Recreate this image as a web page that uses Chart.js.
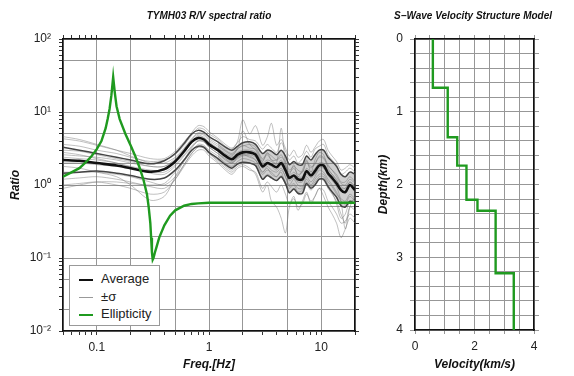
<!DOCTYPE html>
<html>
<head>
<meta charset="utf-8">
<script src="https://cdn.jsdelivr.net/npm/chart.js@4.4.1/dist/chart.umd.min.js"></script>
<style>
  html, body { margin: 0; padding: 0; background: #fff; }
  #wrap { position: relative; width: 574px; height: 376px; overflow: hidden; }
  #ratio { position: absolute; left: 0; top: 0; }
  #vel { position: absolute; left: 372px; top: 0; }
  #legend { position: absolute; left: 69px; top: 265px; width: 89px; height: 59px; background: #fff;
            border: 1px solid #999; font: 13px "Liberation Sans", Arial, sans-serif; color: #222; }
  #legend .row { position: absolute; left: 9px; height: 16px; line-height: 16px; white-space: nowrap; }
  #legend .ln { display: inline-block; width: 14px; vertical-align: middle; margin-right: 8px; }
</style>
</head>
<body>
<div id="wrap">
  <canvas id="ratio" width="370" height="376"></canvas>
  <canvas id="vel" width="202" height="376"></canvas>
  <div id="legend">
    <div class="row" style="top:5px"><span class="ln" style="border-top:2.5px solid #111"></span>Average</div>
    <div class="row" style="top:23px"><span class="ln" style="border-top:1px solid #999"></span>±σ</div>
    <div class="row" style="top:40px"><span class="ln" style="border-top:2.5px solid #1f9a1f"></span>Ellipticity</div>
  </div>
</div>
<script>
const FONT = '"Liberation Sans", Arial, sans-serif';

// R/V spectral ratio
const freq = [0.05, 0.07, 0.1, 0.15, 0.2, 0.3, 0.4,
              0.5, 0.6, 0.7, 0.8, 0.9, 1.0, 1.2,
              1.4, 1.6, 1.8, 2.0, 2.3, 2.6, 3.0,
              3.3, 3.6, 4.0, 4.4, 4.8, 5.2, 5.7,
              6.2, 6.8, 7.4, 8.1, 8.8, 9.6, 10.5,
              11.5, 12.5, 13.7, 15, 16.4, 18, 20];
const average = [2.2, 2.15, 2.0, 1.85, 1.7, 1.52, 1.65,
                 2.1, 2.9, 3.9, 4.4, 4.2, 3.6, 3.0,
                 2.5, 2.25, 2.6, 2.8, 2.8, 2.6, 1.8,
                 2.0, 1.9, 1.75, 2.0, 1.6, 1.25, 1.35,
                 1.2, 1.2, 1.55, 1.35, 1.55, 1.85, 1.85,
                 1.45, 1.25, 1.05, 0.85, 0.8, 1.0, 0.85];
const sigmaUpper = [3.3, 3.0, 2.7, 2.4, 2.2, 1.95, 2.15,
                    2.7, 3.7, 5.0, 5.6, 5.3, 4.6, 3.9,
                    3.3, 3.0, 3.4, 3.8, 3.9, 3.6, 2.7,
                    3.0, 2.9, 2.6, 3.0, 2.5, 1.9, 2.1,
                    1.9, 1.9, 2.5, 2.2, 2.6, 3.0, 3.0,
                    2.4, 2.1, 1.8, 1.4, 1.3, 1.5, 1.4];
const sigmaLower = [1.45, 1.5, 1.55, 1.45, 1.35, 1.2, 1.25,
                    1.6, 2.2, 3.0, 3.4, 3.3, 2.8, 2.3,
                    1.9, 1.7, 1.95, 2.05, 2.0, 1.85, 1.2,
                    1.35, 1.25, 1.15, 1.3, 1.05, 0.78, 0.88,
                    0.77, 0.77, 1.05, 0.9, 1.0, 1.2, 1.2,
                    0.95, 0.8, 0.68, 0.52, 0.5, 0.6, 0.55];
// individual gray records
const traces = [
  [4.3, 4.0, 3.5, 3.0, 2.7, 2.3, 2.3, 2.9, 3.9, 5.2, 6.5, 6.3, 5.4, 4.4, 3.6, 3.2, 3.8, 4.6, 4.2, 4.0, 3.1,
   3.6, 3.2, 2.8, 3.8, 2.9, 2.2, 2.5, 2.0, 2.3, 2.9, 2.4, 3.1, 3.4, 3.6, 2.6, 2.2, 1.9, 1.4, 1.5, 1.7, 1.5],
  [1.2, 1.25, 1.3, 1.2, 1.1, 0.95, 0.9, 1.2, 1.8, 2.5, 3.0, 3.0, 2.5, 2.0, 1.6, 1.4, 1.7, 1.8, 1.6, 1.5, 0.9,
   1.1, 0.95, 0.8, 1.0, 0.75, 0.55, 0.65, 0.5, 0.55, 0.75, 0.6, 0.7, 0.9, 0.85, 0.6, 0.5, 0.4, 0.3, 0.32, 0.4, 0.35],
  [3.0, 2.9, 2.6, 2.3, 2.1, 1.8, 1.8, 2.3, 3.1, 4.2, 5.0, 4.8, 4.1, 3.4, 2.9, 2.6, 3.1, 3.5, 3.2, 3.1, 2.2,
   2.6, 2.2, 2.2, 2.6, 1.9, 1.5, 1.7, 1.4, 1.5, 2.0, 1.7, 2.0, 2.4, 2.3, 1.8, 1.6, 1.3, 1.05, 1.0, 1.2, 1.05],
  [1.8, 1.7, 1.5, 1.3, 1.0, 0.62, 0.7, 1.3, 2.2, 3.2, 4.0, 3.9, 3.3, 2.7, 2.2, 2.0, 2.4, 2.6, 2.4, 2.2, 1.5,
   1.8, 1.6, 1.5, 1.7, 1.3, 1.0, 1.2, 1.0, 0.95, 1.3, 1.1, 1.3, 1.6, 1.5, 1.2, 1.0, 0.8, 0.6, 0.55, 0.7, 0.6],
  [4.6, 4.2, 3.6, 3.0, 2.5, 2.0, 2.0, 2.4, 3.2, 4.3, 5.2, 5.0, 4.3, 3.6, 3.0, 2.7, 3.2, 3.4, 3.6, 3.3, 2.3,
   2.7, 2.5, 2.2, 2.4, 2.1, 1.6, 1.8, 1.6, 1.5, 2.1, 1.8, 1.9, 2.5, 2.4, 1.9, 1.6, 1.4, 1.1, 1.1, 1.3, 1.1],
  [0.9, 1.0, 1.1, 1.1, 1.05, 1.0, 1.05, 1.5, 2.1, 2.9, 3.6, 3.5, 3.0, 2.5, 2.0, 1.8, 2.1, 2.3, 2.2, 2.0, 1.4,
   1.6, 1.5, 1.3, 1.6, 1.3, 0.95, 1.05, 0.9, 0.9, 1.2, 1.0, 1.2, 1.4, 1.4, 1.1, 0.95, 0.75, 0.65, 0.6, 0.75, 0.65],
  [2.6, 2.5, 2.4, 2.2, 2.0, 1.8, 1.8, 2.2, 2.9, 3.9, 4.8, 4.5, 3.9, 3.2, 2.7, 2.5, 3.2, 5.5, 3.6, 3.0, 2.1,
   2.8, 2.2, 2.0, 6.0, 2.0, 1.4, 1.9, 1.3, 1.6, 2.2, 1.5, 2.2, 2.8, 2.6, 1.7, 1.4, 1.2, 0.9, 0.9, 1.1, 0.95],
  [2.0, 2.0, 1.9, 1.8, 1.7, 1.5, 1.5, 1.9, 2.6, 3.4, 4.1, 4.0, 3.5, 2.9, 2.4, 2.1, 2.4, 2.6, 2.6, 2.4, 1.7,
   1.9, 1.8, 1.6, 1.9, 1.5, 1.15, 1.25, 1.1, 1.1, 1.4, 1.25, 1.4, 1.7, 1.7, 1.35, 1.15, 0.95, 0.6, 0.25, 0.5, 0.7],
  [2.4, 2.3, 2.2, 2.0, 1.8, 1.6, 1.6, 2.1, 2.8, 3.8, 4.6, 4.4, 3.8, 3.1, 2.6, 2.4, 2.8, 3.0, 3.0, 2.8, 2.0,
   2.2, 2.1, 1.9, 2.2, 1.8, 1.35, 1.5, 1.3, 1.3, 1.7, 1.5, 1.7, 2.0, 2.0, 1.6, 1.4, 1.15, 0.95, 0.9, 1.1, 0.95],
  [1.5, 1.5, 1.5, 1.4, 1.3, 1.1, 1.0, 1.3, 1.9, 2.7, 3.3, 3.2, 2.7, 2.2, 1.8, 1.6, 1.9, 2.0, 2.0, 1.8, 1.2,
   1.4, 1.3, 1.15, 1.35, 1.1, 0.8, 0.9, 0.75, 0.75, 1.0, 0.85, 1.0, 1.2, 1.15, 0.9, 0.75, 0.6, 0.4, 0.3, 0.5, 0.45],
  [1.0, 1.05, 1.1, 1.0, 0.9, 0.75, 0.8, 1.2, 1.9, 2.7, 3.3, 3.2, 2.7, 2.1, 1.7, 1.5, 1.8, 1.9, 1.7, 1.4, 0.8,
   1.0, 0.6, 0.5, 0.35, 0.22, 0.5, 0.7, 0.45, 0.6, 0.8, 0.55, 0.7, 0.9, 0.7, 0.5, 0.4, 0.3, 0.19, 0.25, 0.35, 0.3],
  [3.6, 3.4, 3.0, 2.7, 2.4, 2.1, 2.2, 2.6, 3.5, 4.8, 6.0, 5.8, 5.0, 4.2, 3.4, 3.1, 4.0, 7.8, 5.0, 6.5, 3.5,
   4.5, 7.0, 3.5, 4.2, 3.2, 2.5, 3.0, 2.4, 2.6, 3.5, 2.8, 3.3, 4.0, 4.2, 3.0, 2.5, 2.1, 1.6, 1.7, 1.9, 1.7],
  [2.8, 2.6, 2.3, 2.0, 1.75, 1.45, 1.4, 1.8, 2.5, 3.3, 4.0, 3.9, 3.3, 2.7, 2.3, 2.0, 2.3, 2.5, 2.5, 2.2, 1.5,
   1.7, 1.4, 1.3, 1.5, 1.0, 0.9, 1.0, 0.8, 0.85, 1.1, 0.95, 1.1, 1.3, 1.3, 1.0, 0.8, 0.55, 0.35, 0.4, 0.6, 0.6]
];
// theoretical ellipticity
const ellipFreq = [0.05, 0.06, 0.07, 0.08, 0.09, 0.1, 0.11, 0.12, 0.125, 0.13,
                   0.135, 0.14, 0.145, 0.15, 0.16, 0.18, 0.2, 0.22, 0.24, 0.26,
                   0.28, 0.29, 0.3, 0.305, 0.31, 0.315, 0.32, 0.33, 0.34, 0.36,
                   0.4, 0.45, 0.5, 0.6, 0.7, 0.8, 1, 2, 5, 10, 20];
const ellipticity = [1.3, 1.5, 1.7, 2.05, 2.5, 3.1, 4.0, 6.0, 8.0, 11,
                     17, 30, 18, 12, 8, 5.0, 3.5, 2.5, 1.75, 1.2,
                     0.75, 0.5, 0.3, 0.19, 0.12, 0.095, 0.1, 0.12, 0.14, 0.19,
                     0.28, 0.38, 0.45, 0.52, 0.55, 0.56, 0.57, 0.57, 0.57, 0.57, 0.57];

// S-wave velocity model
const layerVs  = [0.6, 1.1, 1.42, 1.73, 2.1, 2.71, 3.32];
const layerTop = [0, 0.67, 1.35, 1.74, 2.21, 2.36, 3.22];
const modelBottom = 4;

// tick labels
const freqTickValues = [0.1, 1, 10];
const freqTickLabels = ['0.1', '1', '10'];
const ratioTickValues = [0.01, 0.1, 1, 10, 100];
const ratioTickLabels = ['10⁻²', '10⁻¹', '10⁰', '10¹', '10²'];
const velTickValues = [0, 2, 4];
const velTickLabels = ['0', '2', '4'];
const depthTickValues = [0, 1, 2, 3, 4];
const depthTickLabels = ['0', '1', '2', '3', '4'];

const pts = (xs, ys) => xs.map((x, i) => ({ x: x, y: ys[i] }));

function logTicks(min, max) {
  const out = [];
  for (let e = Math.floor(Math.log10(min)); e <= Math.ceil(Math.log10(max)); e++) {
    for (let m = 1; m <= 9; m++) {
      const v = +(m * Math.pow(10, e)).toPrecision(6);
      if (v >= min * 0.9999 && v <= max * 1.0001) out.push(v);
    }
  }
  return out;
}
function mant(v) {
  return Math.round(v / Math.pow(10, Math.floor(Math.log10(v) + 1e-9)));
}
function pick(values, labels) {
  return v => {
    const i = values.findIndex(t => Math.abs(t - v) <= 1e-6 * Math.max(1, Math.abs(t)));
    return i >= 0 ? labels[i] : '';
  };
}
const GRID = '#979797';
const logGrid = ctx => {
  if (!ctx.tick) return 'rgba(0,0,0,0)';
  const m = mant(ctx.tick.value);
  return (m === 1 || m === 2 || m === 5) ? GRID : 'rgba(0,0,0,0)';
};
const tickFont = { family: FONT, size: 12 };
const titleFont = { family: FONT, size: 12, weight: 'bold', style: 'italic' };
const frame = { display: true, color: '#111', width: 1.5 };

// ---------- left: spectral ratio ----------
const bandStart = 13; // dense scatter of records above ~1 Hz
const ratioSets = [];
ratioSets.push({ data: pts(ellipFreq, ellipticity), borderColor: '#1f9a1f', borderWidth: 2.4, order: 0 });
ratioSets.push({ data: pts(freq, average), borderColor: '#111', borderWidth: 2.6, tension: 0.3, order: 1 });
ratioSets.push({ data: pts(freq, sigmaUpper), borderColor: '#444', borderWidth: 1.5, tension: 0.3, order: 2 });
ratioSets.push({ data: pts(freq, sigmaLower), borderColor: '#444', borderWidth: 1.5, tension: 0.3, order: 2 });
traces.forEach(t => ratioSets.push({ data: pts(freq, t), borderColor: 'rgba(110,110,110,0.55)', borderWidth: 0.8, tension: 0.3, order: 3 }));
ratioSets.push({ data: pts(freq.slice(bandStart), sigmaUpper.slice(bandStart)), borderWidth: 0, tension: 0.3,
                 fill: '+1', backgroundColor: 'rgba(120,120,120,0.35)', order: 4 });
ratioSets.push({ data: pts(freq.slice(bandStart), sigmaLower.slice(bandStart)), borderWidth: 0, tension: 0.3, order: 4 });

const xMin = 0.05, xMax = 20, yMin = 0.01, yMax = 100;

new Chart(document.getElementById('ratio'), {
  type: 'line',
  data: { datasets: ratioSets },
  options: {
    responsive: false, animation: false, devicePixelRatio: 1,
    elements: { point: { radius: 0 } },
    layout: { padding: 0 },
    plugins: {
      legend: { display: false }, tooltip: { enabled: false },
      filler: { propagate: false },
      title: { display: true, text: 'TYMH03 R/V spectral ratio', fullSize: false, color: '#111',
               font: { family: FONT, size: 10, weight: 'bold', style: 'italic' }, padding: { top: 10, bottom: 4 } }
    },
    scales: {
      x: {
        type: 'logarithmic', position: 'bottom', min: xMin, max: xMax,
        afterBuildTicks: s => { s.ticks = logTicks(xMin, xMax).map(v => ({ value: v })); },
        afterFit: s => { s.height = 45; },
        grid: { color: logGrid, lineWidth: 1, tickLength: 4, tickColor: '#333' },
        border: frame,
        ticks: { autoSkip: false, maxRotation: 0, minRotation: 0, padding: 5, color: '#222', font: tickFont,
                 callback: pick(freqTickValues, freqTickLabels) },
        title: { display: true, text: 'Freq.[Hz]', color: '#111', font: titleFont, padding: { top: 0, bottom: 4 } }
      },
      xTop: {
        type: 'logarithmic', position: 'top', min: xMin, max: xMax,
        afterBuildTicks: s => { s.ticks = logTicks(xMin, xMax).map(v => ({ value: v })); },
        afterFit: s => { s.height = 13; },
        grid: { drawOnChartArea: false, tickLength: 4, tickColor: '#333' },
        border: frame,
        ticks: { autoSkip: false, callback: () => '' }
      },
      y: {
        type: 'logarithmic', position: 'left', min: yMin, max: yMax,
        afterBuildTicks: s => { s.ticks = logTicks(yMin, yMax).map(v => ({ value: v })); },
        afterFit: s => { s.width = 63; },
        grid: { color: logGrid, lineWidth: 1, tickLength: 4, tickColor: '#333' },
        border: frame,
        ticks: { autoSkip: false, padding: 8, color: '#222', font: tickFont,
                 callback: pick(ratioTickValues, ratioTickLabels) },
        title: { display: true, text: 'Ratio', color: '#111', font: titleFont, padding: { top: 8, bottom: 0 } }
      },
      yRight: {
        type: 'logarithmic', position: 'right', min: yMin, max: yMax,
        afterBuildTicks: s => { s.ticks = logTicks(yMin, yMax).map(v => ({ value: v })); },
        afterFit: s => { s.width = 15; },
        grid: { drawOnChartArea: false, tickLength: 4, tickColor: '#333' },
        border: frame,
        ticks: { autoSkip: false, callback: () => '' }
      }
    }
  }
});

// ---------- right: velocity model ----------
const stepPts = [];
layerVs.forEach((vs, i) => {
  const bottom = i + 1 < layerTop.length ? layerTop[i + 1] : modelBottom;
  stepPts.push({ x: vs, y: layerTop[i] });
  stepPts.push({ x: vs, y: bottom });
});

new Chart(document.getElementById('vel'), {
  type: 'line',
  data: { datasets: [{ data: stepPts, borderColor: '#1f9a1f', borderWidth: 2.4 }] },
  options: {
    responsive: false, animation: false, devicePixelRatio: 1,
    elements: { point: { radius: 0 } },
    layout: { padding: 0 },
    plugins: {
      legend: { display: false }, tooltip: { enabled: false },
      title: { display: true, text: 'S−Wave Velocity Structure Model', color: '#111',
               font: { family: FONT, size: 10, weight: 'bold', style: 'italic' }, padding: { top: 10, bottom: 4 } }
    },
    scales: {
      x: {
        type: 'linear', position: 'bottom', min: 0, max: 4,
        afterFit: s => { s.height = 46; },
        grid: { color: GRID, lineWidth: 1, tickLength: 4, tickColor: GRID },
        border: frame,
        ticks: { stepSize: 0.5, autoSkip: false, maxRotation: 0, padding: 5, color: '#222', font: tickFont,
                 callback: pick(velTickValues, velTickLabels) },
        title: { display: true, text: 'Velocity(km/s)', color: '#111', font: titleFont, padding: { top: 0, bottom: 4 } }
      },
      xTop: {
        type: 'linear', position: 'top', min: 0, max: 4,
        afterFit: s => { s.height = 13; },
        grid: { drawOnChartArea: false, tickLength: 4, tickColor: GRID },
        border: frame,
        ticks: { stepSize: 0.5, autoSkip: false, callback: () => '' }
      },
      y: {
        type: 'linear', position: 'left', min: 0, max: 4, reverse: true,
        afterFit: s => { s.width = 43; },
        grid: { color: GRID, lineWidth: 1, tickLength: 5, tickColor: GRID },
        border: frame,
        ticks: { stepSize: 0.2, autoSkip: false, padding: 7, color: '#222', font: tickFont,
                 callback: pick(depthTickValues, depthTickLabels) },
        title: { display: true, text: 'Depth(km)', color: '#111', font: titleFont, padding: { top: 4, bottom: 0 } }
      },
      yRight: {
        type: 'linear', position: 'right', min: 0, max: 4, reverse: true,
        afterFit: s => { s.width = 40; },
        grid: { drawOnChartArea: false, tickLength: 5, tickColor: GRID },
        border: frame,
        ticks: { stepSize: 0.2, autoSkip: false, callback: () => '' }
      }
    }
  }
});
</script>
</body>
</html>
